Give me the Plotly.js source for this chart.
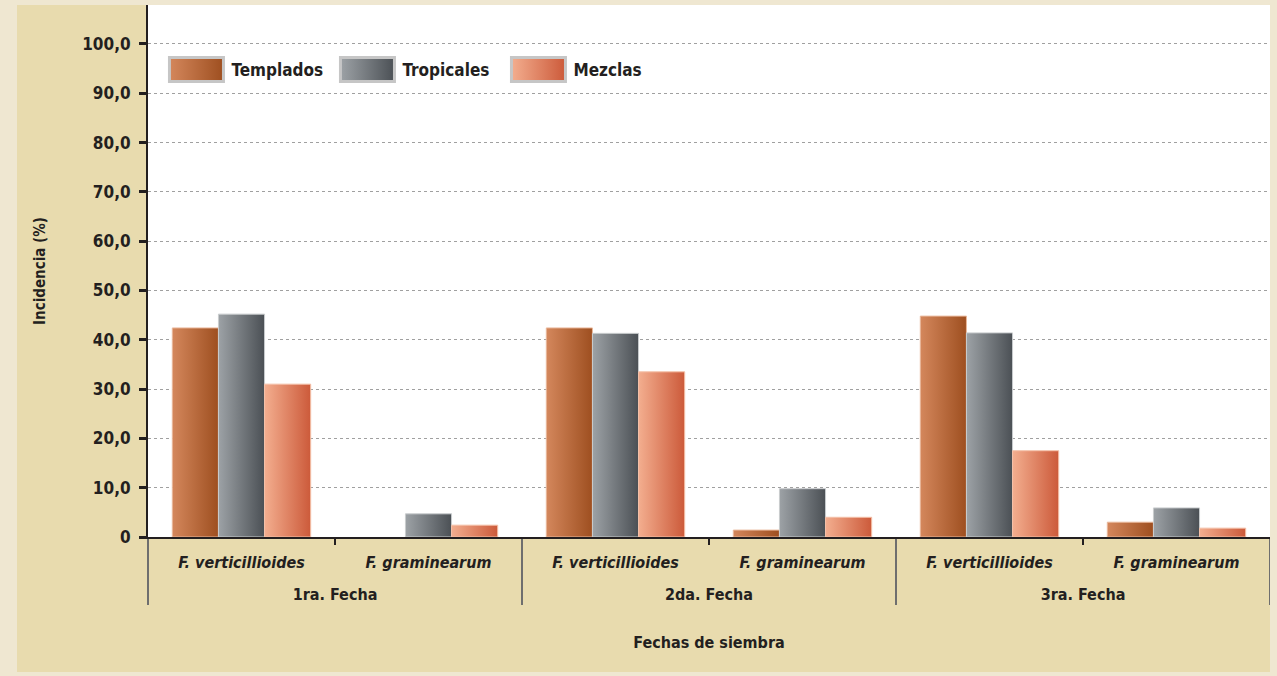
<!DOCTYPE html>
<html>
<head>
<meta charset="utf-8">
<script src="https://cdn.plot.ly/plotly-3.0.1.min.js"></script>
<style>
  html, body { margin: 0; padding: 0; background: #EFE7D1; width: 1277px; height: 676px; overflow: hidden; }
  #chart { position: absolute; left: 17px; top: 5px; width: 1253px; height: 667px; }
</style>
</head>
<body>
<div id="chart"></div>
<script>
// ---- data ----
const groups = ["<br>1ra. Fecha", "<br>2da. Fecha", "<br>3ra. Fecha"];
const species = ["<i>F. verticillioides</i>", "<i>F. graminearum</i>"];
const seriesNames = ["Templados", "Tropicales", "Mezclas"];
const templados  = [42.4, 0.0, 42.4, 1.4, 44.8, 3.0];
const tropicales = [45.2, 4.7, 41.3, 9.8, 41.4, 5.9];
const mezclas    = [31.0, 2.4, 33.5, 4.0, 17.5, 1.8];
const yTickVals = [0, 10, 20, 30, 40, 50, 60, 70, 80, 90, 100];
const yTickText = ["0", "10,0", "20,0", "30,0", "40,0", "50,0", "60,0", "70,0", "80,0", "90,0", "100,0"];

// ---- styling ----
const FONT = "DejaVu Sans Condensed, Liberation Sans Narrow, sans-serif";
const DARK = "#231F20";
const gradStops = [
  ["#D4875C", "#9E4F20"],
  ["#9DA2A6", "#4B5055"],
  ["#F3AE8F", "#CC5A3A"]
];
const lineColors = ["#E9B79A", "#C9CCCE", "#F4C0A8"];

const level1 = [], level2 = [];
groups.forEach(g => species.forEach(s => { level1.push(g); level2.push(s); }));
const values = [templados, tropicales, mezclas];

const traces = values.map((v, i) => ({
  type: "bar",
  name: seriesNames[i],
  x: [level1, level2],
  y: v,
  marker: { color: gradStops[i][1], line: { color: lineColors[i], width: v.map(d => d > 0 ? 1 : 0) } },
  hoverinfo: "skip"
}));

const layout = {
  paper_bgcolor: "#E8DBAE",
  plot_bgcolor: "#FFFFFF",
  margin: { l: 131, r: 0, t: 0, b: 135 },
  barmode: "group",
  bargap: 0.26,
  bargroupgap: 0,
  font: { family: FONT, color: DARK, size: 16, weight: "bold" },
  showlegend: true,
  legend: {
    orientation: "h",
    x: 0.012, y: 0.878, xanchor: "left", yanchor: "middle",
    bgcolor: "rgba(0,0,0,0)",
    font: { family: FONT, size: 17, color: DARK, weight: "bold" },
    itemwidth: 60,
    entrywidth: 96,
    entrywidthmode: "pixels",
    itemclick: false, itemdoubleclick: false
  },
  xaxis: {
    type: "multicategory",
    showline: true, linecolor: DARK, linewidth: 2,
    ticks: "outside", ticklen: 6, tickwidth: 2, tickcolor: DARK,
    tickson: "boundaries",
    ticklabelstandoff: 10,
    showdividers: true, dividercolor: "#6E6E6E", dividerwidth: 2,
    tickfont: { family: FONT, size: 16, color: DARK, weight: "bold" },
    title: { text: "Fechas de siembra", font: { family: FONT, size: 16, color: DARK, weight: "bold" }, standoff: 34 },
    showgrid: false, zeroline: false, fixedrange: true
  },
  yaxis: {
    range: [0, 107.9],
    tickvals: yTickVals, ticktext: yTickText,
    showline: true, linecolor: DARK, linewidth: 2,
    ticks: "outside", ticklen: 7, tickwidth: 3, tickcolor: DARK,
    ticklabelstandoff: 5,
    tickfont: { family: FONT, size: 17, color: DARK, weight: "bold" },
    showgrid: true, gridcolor: "#A0A0A0", gridwidth: 1, griddash: "dot",
    zeroline: false,
    title: { text: "Incidencia (%)", font: { family: FONT, size: 15, color: DARK, weight: "bold" }, standoff: 33 },
    fixedrange: true
  }
};

Plotly.newPlot("chart", traces, layout, { displayModeBar: false, staticPlot: true }).then(gd => {
  const NS = "http://www.w3.org/2000/svg";
  const svg = gd.querySelector(".main-svg");
  let defs = svg.querySelector("defs");
  if (!defs) { defs = document.createElementNS(NS, "defs"); svg.insertBefore(defs, svg.firstChild); }
  gradStops.forEach((st, i) => {
    const lg = document.createElementNS(NS, "linearGradient");
    lg.setAttribute("id", "barGrad" + i);
    lg.setAttribute("x1", "0"); lg.setAttribute("y1", "0");
    lg.setAttribute("x2", "1"); lg.setAttribute("y2", "0");
    [[0, st[0]], [1, st[1]]].forEach(([o, c]) => {
      const s = document.createElementNS(NS, "stop");
      s.setAttribute("offset", o);
      s.setAttribute("stop-color", c);
      lg.appendChild(s);
    });
    defs.appendChild(lg);
  });
  const barTraces = gd.querySelectorAll(".barlayer .trace");
  barTraces.forEach((t, i) => {
    t.querySelectorAll("path").forEach(p => { p.style.fill = "url(#barGrad" + i + ")"; });
  });
  const legPts = gd.querySelectorAll(".legend .traces .legendpoints");
  legPts.forEach((lp, i) => {
    lp.querySelectorAll("path").forEach(p => {
      p.setAttribute("d", "M-27,-12H27V12H-27Z");
      p.style.fill = "url(#barGrad" + i + ")";
      p.style.stroke = "#C6C6C6";
      p.style.strokeWidth = "3px";
    });
  });
});
</script>
</body>
</html>
